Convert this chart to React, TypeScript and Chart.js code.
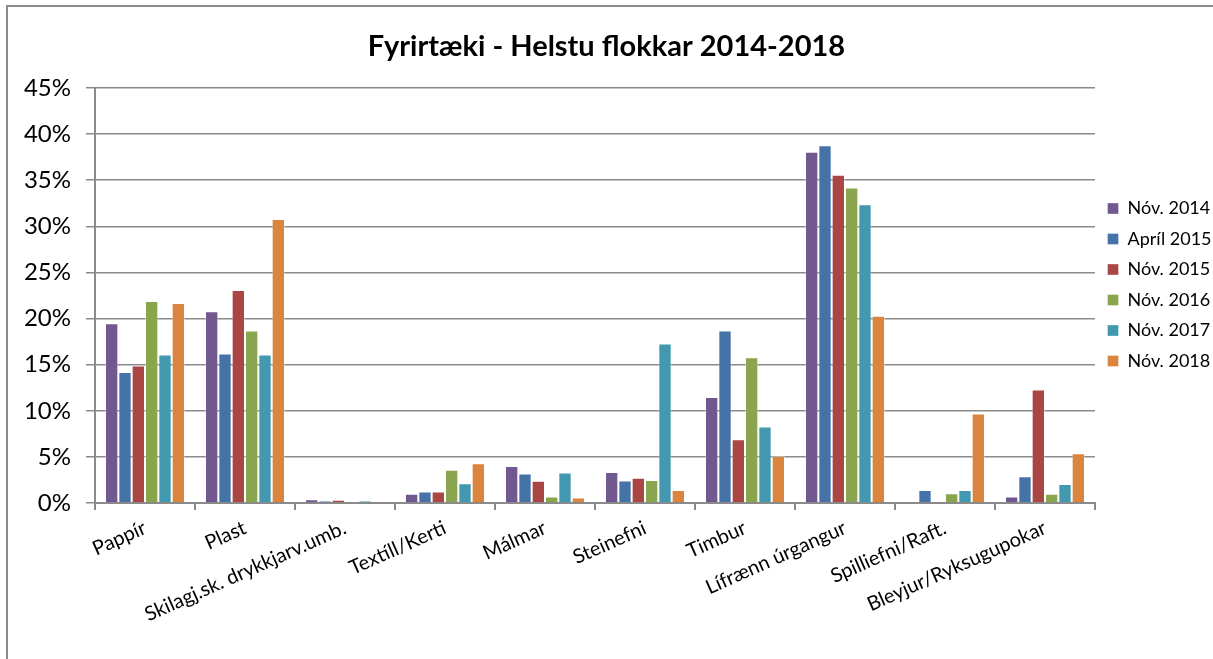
import React, { useEffect, useRef } from "react";
import { Chart, registerables } from "chart.js";

Chart.register(...registerables);

const categories = [
  "Pappír",
  "Plast",
  "Skilagj.sk. drykkjarv.umb.",
  "Textíll/Kerti",
  "Málmar",
  "Steinefni",
  "Timbur",
  "Lífrænn úrgangur",
  "Spilliefni/Raft.",
  "Bleyjur/Ryksugupokar",
];

const seriesNames = ["Nóv. 2014", "Apríl 2015", "Nóv. 2015", "Nóv. 2016", "Nóv. 2017", "Nóv. 2018"];

const nov2014 = [19.5, 20.8, 0.4, 1.0, 4.0, 3.35, 11.5, 38.1, 0.1, 0.7];
const april2015 = [14.2, 16.2, 0.25, 1.25, 3.2, 2.45, 18.7, 38.8, 1.4, 2.9];
const nov2015 = [14.9, 23.1, 0.35, 1.25, 2.4, 2.75, 6.9, 35.6, 0.05, 12.3];
const nov2016 = [21.9, 18.7, 0.1, 3.6, 0.7, 2.5, 15.8, 34.2, 1.05, 1.0];
const nov2017 = [16.1, 16.1, 0.25, 2.15, 3.3, 17.3, 8.3, 32.4, 1.4, 2.05];
const nov2018 = [21.7, 30.8, 0.15, 4.3, 0.6, 1.4, 5.1, 20.3, 9.7, 5.4];

const seriesValues = [nov2014, april2015, nov2015, nov2016, nov2017, nov2018];
const seriesColors = ["#71588F", "#4572A7", "#AA4643", "#89A54E", "#4198AF", "#DB843D"];

const yTicks = [0, 5, 10, 15, 20, 25, 30, 35, 40, 45];

const FONT = "Lato, 'Open Sans', sans-serif";
const GRAY = "#8a8a8a";

export default function App() {
  const canvasRef = useRef<HTMLCanvasElement | null>(null);

  useEffect(() => {
    if (!canvasRef.current) return;
    const chart = new Chart(canvasRef.current, {
      type: "bar",
      data: {
        labels: categories,
        datasets: seriesValues.map((vals, i) => ({
          label: seriesNames[i],
          data: vals,
          backgroundColor: seriesColors[i],
          borderColor: "rgba(255,255,255,0.35)",
          borderWidth: 1,
          categoryPercentage: 0.8,
          barPercentage: 1.0,
        })),
      },
      options: {
        animation: false,
        responsive: false,
        maintainAspectRatio: false,
        layout: { padding: { left: 0, right: 0, top: 0, bottom: 0 } },
        plugins: {
          title: {
            display: true,
            text: "Fyrirtæki - Helstu flokkar 2014-2018",
            color: "#000",
            font: { family: FONT, size: 29, weight: "bold" },
            padding: { top: 29.6, bottom: 23.6 },
          },
          legend: {
            display: true,
            position: "right",
            align: "start",
            maxWidth: 118,
            title: {
              display: true,
              text: " ",
              font: { size: 10 },
              padding: { top: 175, bottom: 0 },
            },
            labels: {
              color: "#000",
              font: { family: FONT, size: 18 },
              boxWidth: 11,
              boxHeight: 11,
              padding: 12.5,
            },
          },
          tooltip: { enabled: false },
        },
        scales: {
          x: {
            grid: {
              display: true,
              drawOnChartArea: false,
              drawTicks: true,
              tickLength: 7,
              color: GRAY,
              lineWidth: 2,
              offset: true,
            },
            border: { display: true, color: GRAY, width: 2 },
            ticks: {
              color: "#000",
              font: { family: FONT, size: 20 },
              minRotation: 24,
              maxRotation: 24,
              autoSkip: false,
              padding: 6,
            },
            afterFit: (scale: any) => {
              scale.height = 156;
            },
          },
          y: {
            min: 0,
            max: 45,
            afterBuildTicks: (scale: any) => {
              scale.ticks = yTicks.map((v) => ({ value: v }));
            },
            grid: {
              color: GRAY,
              lineWidth: 1.5,
              tickLength: 9,
            },
            border: { display: true, color: GRAY, width: 2 },
            ticks: {
              color: "#000",
              font: { family: FONT, size: 24 },
              padding: 15,
              callback: (v: any) => v + "%",
            },
            afterFit: (scale: any) => {
              scale.width = 95;
            },
          },
        },
      },
    });
    return () => chart.destroy();
  }, []);

  return (
    <div
      style={{
        position: "fixed",
        left: 0,
        top: 0,
        width: 1213,
        height: 659,
        overflow: "hidden",
        background: "#fff",
      }}
    >
      <div
        style={{
          position: "absolute",
          left: 6,
          top: 5,
          width: 1300,
          height: 800,
          borderLeft: "2px solid #8c8c8c",
          borderTop: "2px solid #8c8c8c",
        }}
      />
      <canvas
        ref={canvasRef}
        width={1213}
        height={659}
        style={{ position: "absolute", left: 0, top: 0, width: 1213, height: 659 }}
      />
    </div>
  );
}
